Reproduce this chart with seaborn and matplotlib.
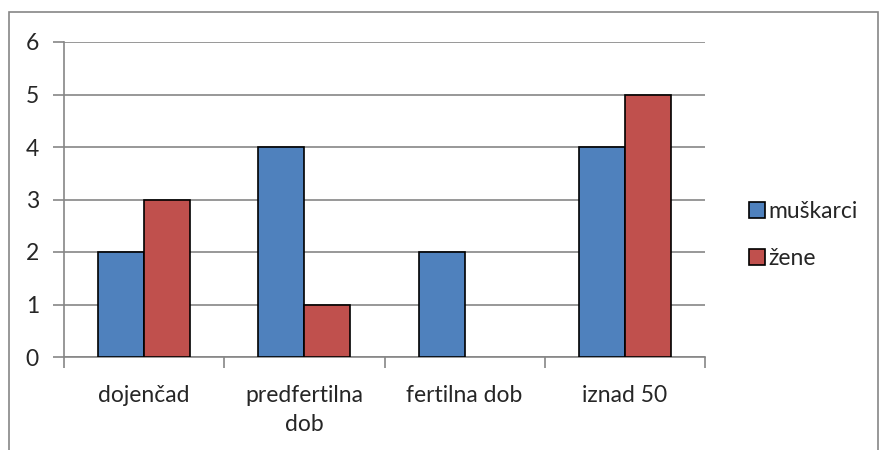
import pandas as pd
import matplotlib.pyplot as plt
import seaborn as sns
from matplotlib.patches import Rectangle, Patch

# Data
categories = ['dojenčad', 'predfertilna\ndob', 'fertilna dob', 'iznad 50']
muskarci = [2, 4, 2, 4]
zene = [3, 1, 0, 5]
series = ['muškarci', 'žene']
colors = ['#4F81BD', '#C0504D']

df = pd.DataFrame({
    'kategorija': categories * 2,
    'spol': [series[0]] * 4 + [series[1]] * 4,
    'broj': muskarci + zene,
})

sns.set_style('white')
plt.rcParams['font.family'] = ['Lato', 'DejaVu Sans']

fig = plt.figure(figsize=(8.8, 4.5), dpi=100)
ax = fig.add_axes([64 / 880, 1 - 357 / 450, (705 - 64) / 880, (357 - 42) / 450])

sns.barplot(data=df, x='kategorija', y='broj', hue='spol', palette=colors,
            saturation=1, width=0.574, edgecolor='black', linewidth=1.2,
            ax=ax, legend=False, zorder=3)

# hide outline of empty bars
for p in ax.patches:
    if p.get_height() == 0:
        p.set_linewidth(0)

grid_c = '#868686'
ax.set_ylim(0, 6)
ax.set_xlim(-0.5, 3.5)
ax.set_yticks(range(7))
ax.yaxis.grid(True, color=grid_c, linewidth=1.2, zorder=0)
ax.set_axisbelow(True)
for s in ['top', 'right']:
    ax.spines[s].set_visible(False)
for s in ['left', 'bottom']:
    ax.spines[s].set_color(grid_c)
    ax.spines[s].set_linewidth(1.2)

ax.set_xlabel('')
ax.set_ylabel('')
ax.tick_params(axis='y', length=8, width=1.2, color=grid_c, pad=10,
               labelsize=16.5, left=True)
ax.tick_params(axis='x', which='major', length=0, pad=20, labelsize=16.5)
for t in ax.get_xticklabels():
    t.set_linespacing(1.5)
ax.set_xticks([-0.5, 0.5, 1.5, 2.5, 3.5], minor=True)
ax.tick_params(axis='x', which='minor', length=8, width=1.2, color=grid_c,
               bottom=True)

handles = [Patch(facecolor=c, edgecolor='black', linewidth=1.2) for c in colors]
fig.legend(handles, series, loc='center left', bbox_to_anchor=(728 / 880, 1 - 235 / 450),
           frameon=False, fontsize=16.5, handlelength=0.7, handleheight=0.7,
           handletextpad=0.15, labelspacing=1.15)

# outer chart border
fig.add_artist(Rectangle((9 / 880, -0.1), (878 - 9) / 880, 1.1 - 12 / 450,
                         transform=fig.transFigure, fill=False,
                         edgecolor=grid_c, linewidth=1.2, clip_on=False))

fig.savefig('out.png', dpi=100)
